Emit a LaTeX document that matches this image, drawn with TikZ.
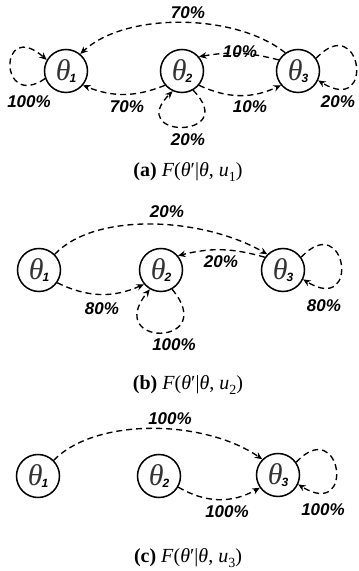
\documentclass[tikz,border=0pt]{standalone}
\usepackage{fontspec}
\setmainfont{Liberation Serif}
\newfontfamily\lblfont{Liberation Sans}
\usetikzlibrary{arrows.meta}
\tikzset{
  st/.style={circle,draw,line width=1.5pt,minimum size=43pt,inner sep=0pt},
  tr/.style={line width=1.35pt,dash pattern=on 6pt off 4pt,-{Stealth[length=7.5pt,width=6.5pt]}},
  pct/.style={font=\lblfont\bfseries\itshape\fontsize{17}{17}\selectfont},
  captxt/.style={font=\fontsize{20}{20}\selectfont}
}
\newcommand\thlab[1]{\textcolor{black!80}{\fontsize{30}{30}\selectfont\itshape θ}\kern-1pt\raisebox{-2pt}{\lblfont\bfseries\itshape\fontsize{12}{12}\selectfont #1}}
\newcommand\captext[2]{\textbf{(#1)} \textit{F}(\textit{θ}′|\textit{θ}, \textit{u}\raisebox{-0.25em}{\fontsize{14}{14}\selectfont #2})}
\begin{document}
\begin{tikzpicture}[x=1pt,y=1pt]
\useasboundingbox (0,0) rectangle (359,571);
% ---------- (a)
\node[st] (a1) at (66,500) {\thlab{1}};
\node[st] (a2) at (182,500) {\thlab{2}};
\node[st] (a3) at (298,500) {\thlab{3}};
\draw[tr] (a1.200) .. controls +(-47,-32) and +(-48,42) .. (a1.150);
\draw[tr] (a3.125) .. controls +(-50,40) and +(45,42) .. (a1.50);
\draw[tr] (a3.150) to[bend right=12] (a2.40);
\draw[tr] (a2.220) to[bend left=22] (a1.320);
\draw[tr] (a2.300) .. controls +(48,-49) and +(-48,-48) .. (a2.245);
\draw[tr] (a2.320) to[bend right=25] (a3.220);
\draw[tr] (a3.35) .. controls +(45,48) and +(58,-36) .. (a3.335);
\node[pct] (la1) at (188,558) {70\%};
\node[pct] (la2) at (240,519) {10\%};
\node[pct] (la3) at (29,469) {100\%};
\node[pct] (la4) at (127,464) {70\%};
\node[pct] (la5) at (188,431) {20\%};
\node[pct] (la6) at (250,464) {10\%};
\node[pct] (la7) at (338,469) {20\%};
\node[captxt] (capa) at (188,399) {\captext{a}{1}};
% ---------- (b)
\node[st] (b1) at (39,301) {\thlab{1}};
\node[st] (b2) at (161,301) {\thlab{2}};
\node[st] (b3) at (283,301) {\thlab{3}};
\draw[tr] (b1.45) .. controls +(41,43) and +(-64,37) .. (b3.135);
\draw[tr] (b3.145) to[bend right=15] (b2.40);
\draw[tr] (b1.325) to[bend right=25] (b2.220);
\draw[tr] (b2.300) .. controls +(48,-58) and +(-47,-58) .. (b2.240);
\draw[tr] (b3.35) .. controls +(45,48) and +(58,-36) .. (b3.335);
\node[pct] (lb1) at (167,359) {20\%};
\node[pct] (lb2) at (221,309) {20\%};
\node[pct] (lb3) at (102,262) {80\%};
\node[pct] (lb4) at (174,226) {100\%};
\node[pct] (lb5) at (324,265) {80\%};
\node[captxt] (capb) at (188,186) {\captext{b}{2}};
% ---------- (c)
\node[st] (c1) at (38,95) {\thlab{1}};
\node[st] (c2) at (159,95) {\thlab{2}};
\node[st] (c3) at (278,96) {\thlab{3}};
\draw[tr] (c1.45) .. controls +(42,43) and +(-58,40) .. (c3.135);
\draw[tr] (c2.330) to[bend right=30] (c3.215);
\draw[tr] (c3.35) .. controls +(45,48) and +(58,-36) .. (c3.335);
\node[pct] (lc1) at (170,152) {100\%};
\node[pct] (lc2) at (227,59) {100\%};
\node[pct] (lc3) at (323,61) {100\%};
\node[captxt] (capc) at (188,13) {\captext{c}{3}};
\end{tikzpicture}
\end{document}
